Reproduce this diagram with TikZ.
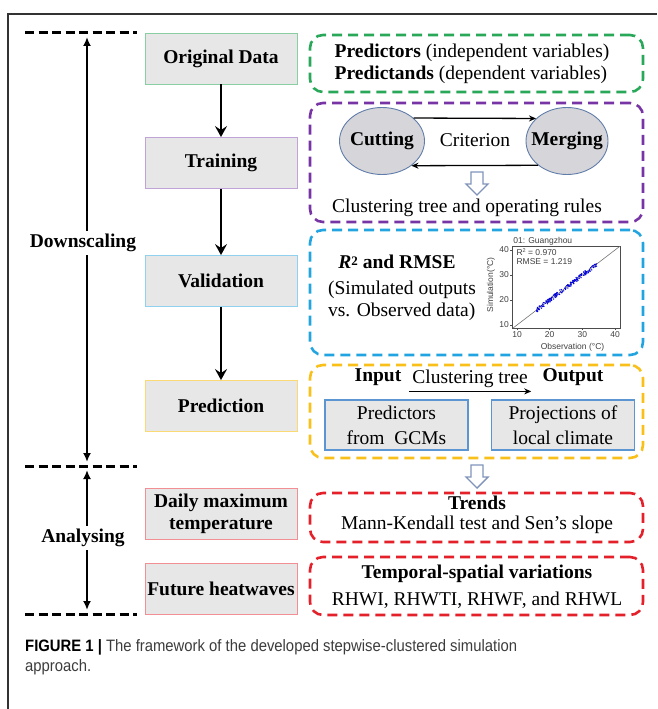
\documentclass[tikz,border=0pt]{standalone}
\usepackage{fontspec}
\setmainfont{Liberation Serif}
\newfontfamily\capfont[FakeStretch=0.9]{Liberation Sans}
\newfontfamily\plotfont{Liberation Sans}
\usepackage{tikz}
\usetikzlibrary{arrows,arrows.meta,shapes,calc,positioning}
\definecolor{grn}{RGB}{40,168,88}
\definecolor{prp}{RGB}{118,52,165}
\definecolor{cyn}{RGB}{34,164,224}
\definecolor{ylw}{RGB}{248,192,24}
\definecolor{rd}{RGB}{228,32,42}
\definecolor{boxgray}{RGB}{231,231,231}
\definecolor{ellgray}{RGB}{214,214,218}
\definecolor{ellblue}{RGB}{96,124,170}
\definecolor{inblue}{RGB}{92,150,210}
\definecolor{hollowc}{RGB}{128,148,186}
\definecolor{capgray}{RGB}{60,60,60}
\newcommand{\txtsize}{\fontsize{19.5}{22}\selectfont}
\tikzstyle{stepbox} =[draw, fill=boxgray, minimum width=152pt,
                      minimum height=51pt, line width=0.9pt,
                      align=center, font=\txtsize\bfseries, inner sep=0pt]
\tikzstyle{dashbox} =[draw, dash pattern=on 10pt off 6pt, line width=2.6pt,
                      rounded corners=13pt, minimum width=333pt, inner sep=0pt]
\tikzstyle{ellip}   =[ellipse, draw=ellblue, fill=ellgray, line width=0.9pt,
                      minimum width=85pt, minimum height=67pt, inner sep=0pt]
\tikzstyle{inbox}   =[draw=inblue, fill=boxgray, line width=1.3pt,
                      minimum width=143pt, minimum height=50pt,
                      align=center, inner sep=0pt]
\tikzstyle{flow}    =[-{Stealth[length=11pt,width=12pt,inset=4pt]},
                      line width=2.4pt]
\tikzstyle{thinarrow}=[-{Stealth[length=7pt,width=6pt]}, line width=1.3pt]
\tikzstyle{rangedash}=[dash pattern=on 9pt off 4.5pt, line width=3pt]
\tikzstyle{rangearrow}=[-{Latex[length=9pt,width=8pt]}, line width=2.2pt]
\tikzset{hollowdown/.pic={
  \draw[line width=1.4pt, draw=hollowc, fill=white, line join=miter]
    (-6,0) -- (6,0) -- (6,12) -- (11,12) -- (0,23) -- (-11,12) -- (-6,12) -- cycle;}}

\begin{document}
\begin{tikzpicture}[x=1pt, y=-1pt, every node/.style={font=\txtsize}]
  \useasboundingbox (0,0) rectangle (657,709);
  % frame
  \draw[line width=1.2pt, black!80] (8,709) -- (8,14) -- (657,14);

  % steps
  \node[stepbox, draw=grn!55]  (orig)   at (221,58.5) {Original Data};
  \node[stepbox, draw=prp!45]  (train)  at (221,163)  {Training};
  \node[stepbox, draw=cyn!50]  (valid)  at (221,281)  {Validation};
  \node[stepbox, draw=ylw!60]  (pred)   at (221,406)  {Prediction};
  \node[stepbox, draw=rd!50]   (daily)  at (221,514)  {Daily maximum\\temperature};
  \node[stepbox, draw=rd!50]   (future) at (221,589)  {Future heatwaves};
  \draw[flow] (orig) -- (train);
  \draw[flow] (train) -- (valid);
  \draw[flow] (valid) -- (pred);

  % stages
  \draw[rangedash] (25,33) -- (137,33);
  \draw[rangedash] (25,466) -- (137,466);
  \draw[rangedash] (25,614) -- (137,614);
  \coordinate (d1) at (87,37);
  \coordinate (d2) at (87,462);
  \coordinate (a1) at (87,470);
  \coordinate (a2) at (87,610);
  \node[font=\txtsize\bfseries] (down) at (83,243) {Downscaling};
  \node[font=\txtsize\bfseries] (ana)  at (83,538) {Analysing};
  \draw[rangearrow] (down.north -| d1) -- (d1);
  \draw[rangearrow] (down.south -| d2) -- (d2);
  \draw[rangearrow] (ana.north -| a1) -- (a1);
  \draw[rangearrow] (ana.south -| a2) -- (a2);

  % dashed boxes
  \node[dashbox, draw=grn, minimum height=57pt]  (gbox) at (476.5,63.5)  {};
  \node[dashbox, draw=prp, minimum height=119pt] (pbox) at (476.5,162.5) {};
  \node[dashbox, draw=cyn, minimum height=125pt] (bbox) at (476.5,292.5) {};
  \node[dashbox, draw=ylw, minimum height=93pt]  (ybox) at (476.5,411.5) {};
  \node[dashbox, draw=rd, minimum height=49pt]   (rbox) at (476.5,517.5) {};
  \node[dashbox, draw=rd, minimum height=58pt]   (sbox) at (476.5,586)   {};

  % original data
  \node[align=left] (vars) at (472,64)
    {\textbf{Predictors} (independent variables)\\\textbf{Predictands} (dependent variables)};

  % training
  \node[ellip] (cut)   at (382,141) {};
  \node[ellip, minimum width=82pt] (merge) at (567,141) {};
  \node (cuttxt)   at (cut)   {\textbf{Cutting}};
  \node (mergetxt) at (merge) {\textbf{Merging}};
  \node (crit) at (475,140) {Criterion};
  \draw[thinarrow] (cut.36) -- (merge.144);
  \draw[thinarrow] (merge.-140) -- (cut.-40);
  \pic at (477,172) {hollowdown};
  \node (rules) at (467,208) {Clustering tree and operating rules};

  % validation
  \node (rmse) at (397,262) {\textbf{\textit{R}\raisebox{0.35ex}{\fontsize{13}{13}\selectfont 2} and RMSE}};
  \node[align=left] (simobs) at (402,301) {(Simulated outputs\\vs. Observed data)};
  \begin{scope}[shift={(484.33,350)}, x=3.267pt, y=2.5pt,
                every node/.style={font=\plotfont\fontsize{8.5}{9.5}\selectfont, text=black!75}]
    \draw[black!70, line width=0.6pt] (8.5,8.8) rectangle (41.5,41.6);
    \draw[black!55, line width=0.6pt] (8.8,8.8) -- (41.5,41.5);
    \pgfmathsetseed{11}
    \foreach \i in {1,...,170}{
      \pgfmathsetmacro\px{16+18.5*rnd}
      \pgfmathsetmacro\py{\px+0.9*rand}
      \fill[blue!85!black] (\px,\py) circle (0.75pt);
    }
    \foreach \t in {10,20,30,40}{
      \draw[black!70, line width=0.6pt] (\t,8.8) -- (\t,7.9) node[below, inner sep=1pt] (xt\t) {\t};
      \draw[black!70, line width=0.6pt] (8.5,\t) -- (7.9,\t) node[left, inner sep=1pt] (yt\t) {\t};
    }
    \node[anchor=south west, inner sep=1pt] (ttl) at (8.5,41.6) {01: Guangzhou};
    \node[anchor=north west, align=left, inner sep=1pt] (stats) at (9.5,41)
      {R\raisebox{0.6ex}{\fontsize{5.5}{6}\selectfont 2} = 0.970\\RMSE = 1.219};
    \node[rotate=90] (ylab) at (2,26) {Simulation(°C)};
    \node (xlab) at (27,1) {Observation (°C)};
  \end{scope}

  % prediction
  \node (inp)   at (378,377) {\textbf{Input}};
  \node (ctree) at (470,379) {Clustering tree};
  \node (outp)  at (573,377) {\textbf{Output}};
  \draw[thinarrow] (ctree.south west) -- (ctree.south east);
  \node[inbox] (gcm)  at (396.5,425) {Predictors\\[3pt]from\ \ GCMs};
  \node[inbox] (proj) at (563,425)   {Projections of\\[3pt]local climate};
  \pic at (477,465) {hollowdown};

  % analysing
  \node[align=center] (trend) at (477,515)
    {\textbf{Trends}\\[-2pt]Mann-Kendall test and Sen's slope};
  \node[align=center] (vari) at (477,586.5)
    {\textbf{Temporal-spatial variations}\\[5pt]RHWI, RHWTI, RHWF, and RHWL};

  % caption
  \node[anchor=north west, align=left, inner sep=0pt, text=capgray,
        font=\capfont\fontsize{16.5}{20}\selectfont] (cap) at (25,639)
    {{\color{black}\textbf{FIGURE 1 |}} The framework of the developed stepwise-clustered simulation\\approach.};
\end{tikzpicture}
\end{document}
